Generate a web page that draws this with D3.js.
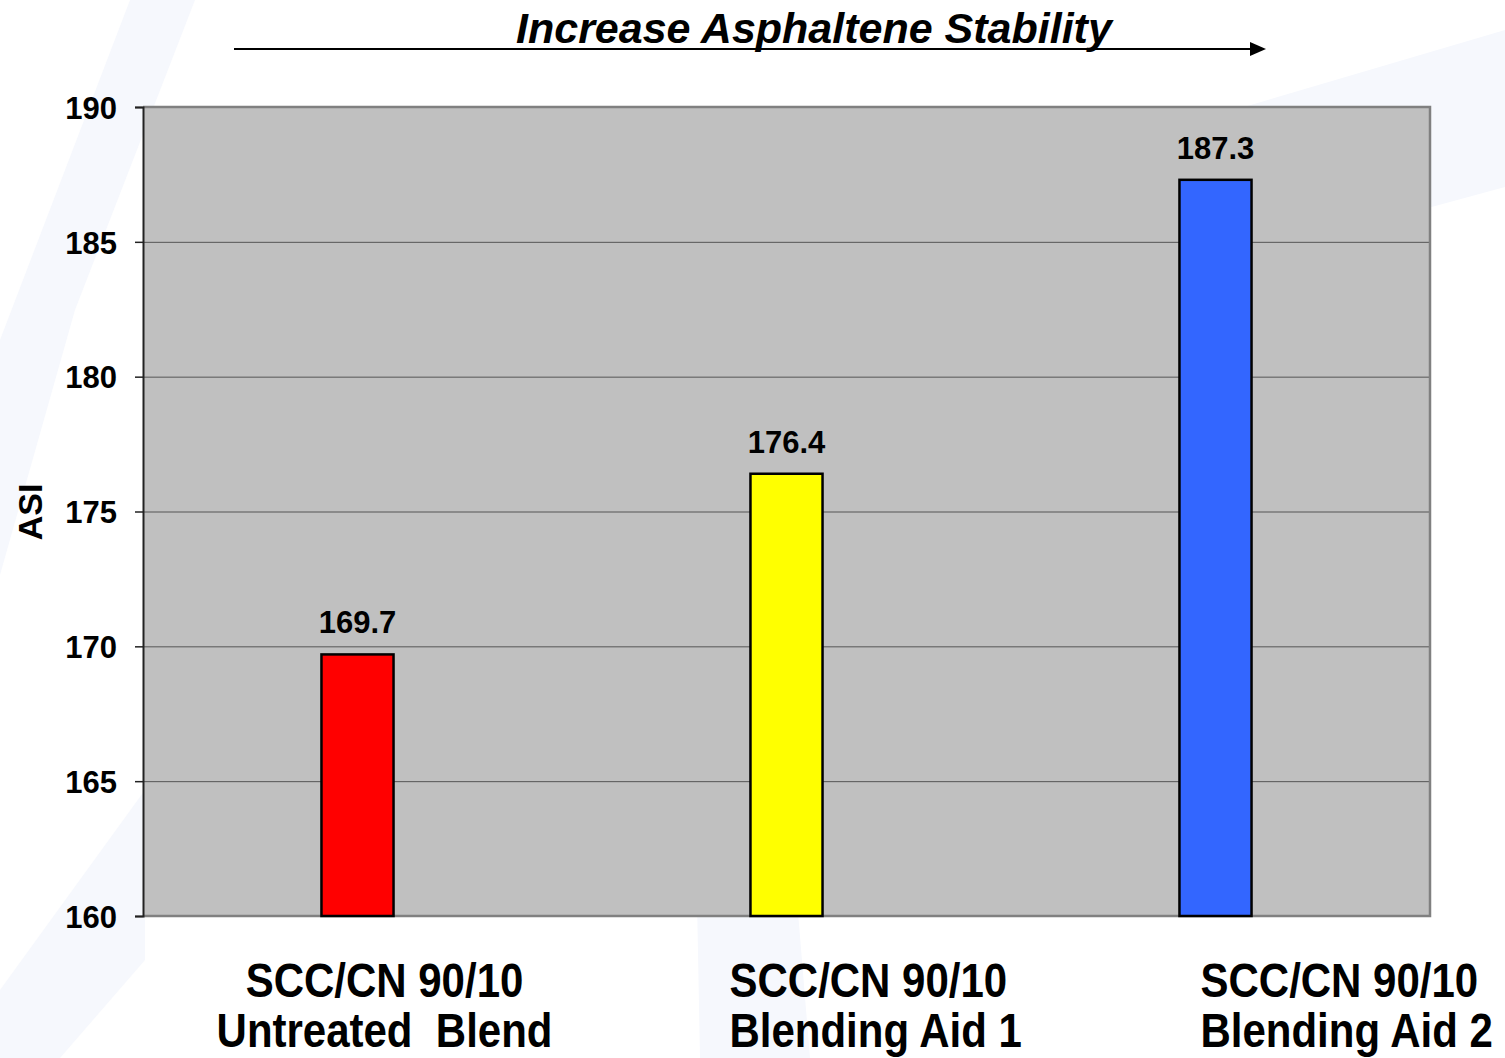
<!DOCTYPE html>
<html>
<head>
<meta charset="utf-8">
<script src="https://cdn.jsdelivr.net/npm/d3@7"></script>
<style>
  html, body { margin: 0; padding: 0; background: #fff; }
  svg { display: block; font-family: "Liberation Sans", Arial, sans-serif; }
</style>
</head>
<body>
<div id="chart"></div>
<script>
// data
const categories = ["Untreated Blend", "Blending Aid 1", "Blending Aid 2"];
const categoryLines = [
    ["SCC/CN 90/10", "Untreated\u00a0 Blend"],
    ["SCC/CN 90/10", "Blending Aid 1"],
    ["SCC/CN 90/10", "Blending Aid 2"]
];
const asiValues = [169.7, 176.4, 187.3];
const barColors = ["#ff0000", "#ffff00", "#3366ff"];
const yTicks = [160, 165, 170, 175, 180, 185, 190];
const titleText = "Increase Asphaltene Stability";
const yLabel = "ASI";

// layout
const width = 1505, height = 1058;
const plot = { left: 143, right: 1430, top: 107, bottom: 916 };
const labelDx = [27, -57, -15];
const labelAnchor = ["middle", "start", "start"];
const condense = 0.875;

const svg = d3.select("#chart").append("svg")
    .attr("width", width)
    .attr("height", height);

// faint background swooshes
const swooshes = [
    [[130, 0], [195, 0], [75, 310], [0, 575], [0, 340]],
    [[145, 790], [145, 960], [60, 1058], [0, 1058], [0, 990]],
    [[697, 900], [797, 900], [810, 1058], [700, 1058]],
    [[1200, 120], [1505, 30], [1505, 187], [1200, 270]]
];
svg.append("g").selectAll("polygon")
    .data(swooshes)
    .enter().append("polygon")
    .attr("points", d => d.map(p => p.join(",")).join(" "))
    .attr("fill", "#f6f8fd");

const x = d3.scaleBand()
    .domain(categories)
    .range([plot.left, plot.right])
    .paddingInner(0.832)
    .paddingOuter(0.416);

const y = d3.scaleLinear()
    .domain([160, 190])
    .range([plot.bottom, plot.top]);

// plot background
svg.append("rect")
    .attr("x", plot.left)
    .attr("y", plot.top)
    .attr("width", plot.right - plot.left)
    .attr("height", plot.bottom - plot.top)
    .attr("fill", "#c0c0c0");

// gridlines
svg.append("g").selectAll("line")
    .data(yTicks.filter(t => t > 160 && t < 190))
    .enter().append("line")
    .attr("x1", plot.left)
    .attr("x2", plot.right)
    .attr("y1", d => y(d) + 0.5)
    .attr("y2", d => y(d) + 0.5)
    .attr("stroke", "#555")
    .attr("stroke-width", 1);

// plot border (top, right, bottom)
svg.append("path")
    .attr("d", `M${plot.left},${plot.top}H${plot.right}V${plot.bottom}H${plot.left}`)
    .attr("fill", "none")
    .attr("stroke", "#808080")
    .attr("stroke-width", 2.5);

// bars
svg.append("g").selectAll("rect")
    .data(asiValues)
    .enter().append("rect")
    .attr("x", (d, i) => x(categories[i]))
    .attr("y", d => y(d))
    .attr("width", x.bandwidth())
    .attr("height", d => y(160) - y(d))
    .attr("fill", (d, i) => barColors[i])
    .attr("stroke", "#000")
    .attr("stroke-width", 2.5);

// value labels
svg.append("g").selectAll("text")
    .data(asiValues)
    .enter().append("text")
    .attr("x", (d, i) => x(categories[i]) + x.bandwidth() / 2)
    .attr("y", d => y(d) - 21)
    .attr("text-anchor", "middle")
    .attr("font-size", 31)
    .attr("font-weight", "bold")
    .attr("fill", "#000")
    .text(d => d.toFixed(1));

// y axis
const yAxis = svg.append("g")
    .attr("transform", `translate(${plot.left},0)`)
    .call(d3.axisLeft(y).tickValues(yTicks).tickSize(8).tickPadding(18).tickFormat(d3.format("d")));
yAxis.select(".domain").attr("stroke", "#222").attr("stroke-width", 2);
yAxis.selectAll(".tick line").attr("stroke", "#222").attr("stroke-width", 1.5);
yAxis.selectAll(".tick text")
    .attr("font-size", 31)
    .attr("font-weight", "bold")
    .attr("font-family", "'Liberation Sans', Arial, sans-serif")
    .attr("fill", "#000")
    .attr("dy", "0.36em");

// y label
svg.append("text")
    .attr("transform", "translate(42,512) rotate(-90)")
    .attr("text-anchor", "middle")
    .attr("font-size", 34)
    .attr("font-weight", "bold")
    .text(yLabel);

// category labels, condensed horizontally like the original
svg.append("g").selectAll("text")
    .data(categoryLines)
    .enter().append("text")
    .attr("transform", (d, i) =>
        `translate(${x(categories[i]) + x.bandwidth() / 2 + labelDx[i]},0) scale(${condense},1)`)
    .attr("text-anchor", (d, i) => labelAnchor[i])
    .attr("font-size", 48)
    .attr("font-weight", "bold")
    .attr("fill", "#000")
    .each(function(lines) {
        const t = d3.select(this);
        lines.forEach((line, k) => {
            t.append("tspan")
                .attr("x", 0)
                .attr("y", 997 + k * 50)
                .text(line);
        });
    });

// title with arrow
svg.append("path")
    .attr("d", `M234,49H1252`)
    .attr("stroke", "#000")
    .attr("stroke-width", 2.2);
svg.append("path")
    .attr("d", "M1250,42L1266,49L1250,56Z")
    .attr("fill", "#000");
svg.append("text")
    .attr("x", 516)
    .attr("y", 43)
    .attr("font-size", 43)
    .attr("font-weight", "bold")
    .attr("font-style", "italic")
    .attr("fill", "#000")
    .text(titleText);
</script>
</body>
</html>
